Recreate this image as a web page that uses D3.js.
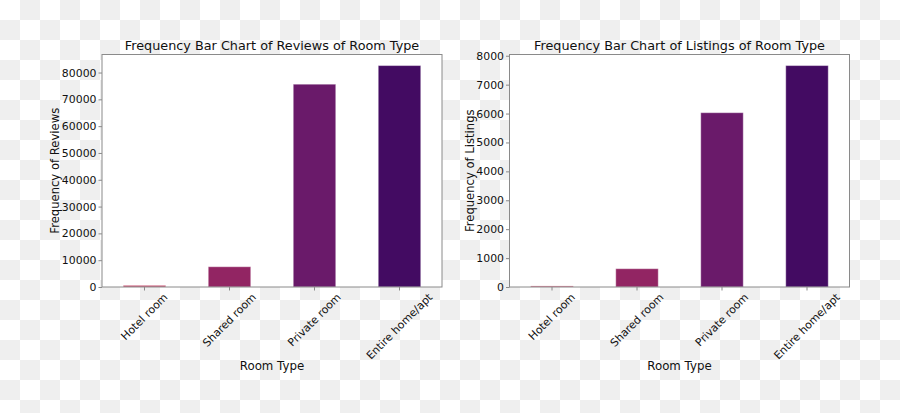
<!DOCTYPE html>
<html>
<head>
<meta charset="utf-8">
<script src="https://cdn.jsdelivr.net/npm/d3@7"></script>
<style>
  html, body { margin: 0; padding: 0; background: #fff; }
  svg { display: block; }
  text { font-family: "DejaVu Sans", sans-serif; fill: #111; }
</style>
</head>
<body>
<svg id="chart" width="900" height="413"></svg>
<script>
// ---- data ----
const categories = ["Hotel room", "Shared room", "Private room", "Entire home/apt"];
const reviewCounts = [620, 7560, 75650, 82600];
const listingCounts = [37, 633, 6030, 7660];
const reviewTicks = [0, 10000, 20000, 30000, 40000, 50000, 60000, 70000, 80000];
const listingTicks = [0, 1000, 2000, 3000, 4000, 5000, 6000, 7000, 8000];
const barColors = ["#c0395e", "#922563", "#6a1a6a", "#430b62"];
const titles = ["Frequency Bar Chart of Reviews of Room Type", "Frequency Bar Chart of Listings of Room Type"];
const yLabels = ["Frequency of Reviews", "Frequency of Listings"];
const xLabel = "Room Type";

(function () {
const svg = d3.select("#chart");
const W = 900, H = 413;

// checkerboard (transparent background preview)
const cell = 20;
const cells = [];
for (let r = 0; r < Math.ceil(H / cell); r++)
  for (let c = 0; c < Math.ceil(W / cell); c++)
    if ((r + c) % 2 === 1) cells.push([c, r]);
svg.append("g").selectAll("rect").data(cells).join("rect")
  .attr("x", d => d[0] * cell).attr("y", d => d[1] * cell)
  .attr("width", cell).attr("height", cell).attr("fill", "#efefef");

const panels = [
  { left: 102, right: 442, values: reviewCounts, ticks: reviewTicks, title: titles[0], ylab: yLabels[0], ylabX: 55 },
  { left: 509.5, right: 849.5, values: listingCounts, ticks: listingTicks, title: titles[1], ylab: yLabels[1], ylabX: 470 }
];
const plotTop = 54.5, plotBottom = 287;

panels.forEach(p => {
  const g = svg.append("g");
  const x = d3.scaleBand().domain(categories).range([p.left, p.right]).paddingInner(0.5).paddingOuter(0.25);
  const y = d3.scaleLinear().domain([0, d3.max(p.values) * 1.05]).range([plotBottom, plotTop]);

  // axes background
  g.append("rect").attr("x", p.left).attr("y", plotTop).attr("width", p.right - p.left).attr("height", plotBottom - plotTop).attr("fill", "#fff");

  // bars
  g.append("g").selectAll("rect").data(categories).join("rect")
    .attr("x", d => x(d)).attr("width", x.bandwidth())
    .attr("y", (d, i) => y(p.values[i]))
    .attr("height", (d, i) => plotBottom - y(p.values[i]))
    .attr("fill", (d, i) => barColors[i])
    .attr("stroke", "rgba(255,255,255,0.4)").attr("stroke-width", 1);

  // frame
  g.append("rect").attr("x", p.left).attr("y", plotTop).attr("width", p.right - p.left).attr("height", plotBottom - plotTop)
    .attr("fill", "none").attr("stroke", "#8a8a8a").attr("stroke-width", 1);

  // y axis
  const ya = g.append("g").attr("transform", `translate(${p.left},0)`)
    .call(d3.axisLeft(y).tickValues(p.ticks).tickFormat(d3.format("d")).tickSize(3.5).tickPadding(2));
  ya.select(".domain").remove();
  ya.selectAll("line").attr("stroke", "#8a8a8a");
  ya.selectAll("text").attr("font-size", "10.9px").attr("fill", "#111").attr("font-family", "DejaVu Sans");

  // x axis ticks
  const xa = g.append("g").attr("transform", `translate(0,${plotBottom})`)
    .call(d3.axisBottom(x).tickSize(3.5).tickFormat(""));
  xa.select(".domain").remove();
  xa.selectAll("line").attr("stroke", "#8a8a8a");

  // rotated x labels (centered on tick, bbox top under axis)
  const fs = 10.9;
  g.append("g").selectAll("text").data(categories).join("text")
    .attr("font-size", fs + "px")
    .attr("text-anchor", "middle")
    .attr("dominant-baseline", "central")
    .text(d => d)
    .each(function (d) {
      const L = this.getComputedTextLength();
      const cx = x(d) + x.bandwidth() / 2;
      const cy = plotBottom + 4 + (L + fs * 1.15) * Math.SQRT1_2 / 2;
      d3.select(this).attr("transform", `translate(${cx},${cy}) rotate(-45)`);
    });

  // title
  g.append("text").attr("x", (p.left + p.right) / 2).attr("y", 49.5)
    .attr("text-anchor", "middle").attr("font-size", "12.8px").text(p.title);

  // x label
  g.append("text").attr("x", (p.left + p.right) / 2).attr("y", 370)
    .attr("text-anchor", "middle").attr("font-size", "11.8px").text(xLabel);

  // y label
  g.append("text").attr("transform", `translate(${p.ylabX},${(plotTop + plotBottom) / 2}) rotate(-90)`)
    .attr("text-anchor", "middle").attr("dominant-baseline", "central")
    .attr("font-size", "11.6px").text(p.ylab);
});
})();
</script>
</body>
</html>
